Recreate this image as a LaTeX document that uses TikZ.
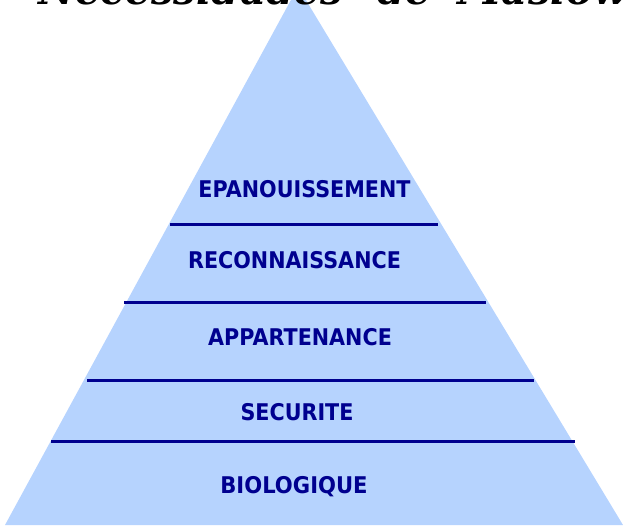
\documentclass[tikz,border=0pt]{standalone}
\usepackage{fontspec}
\setmainfont{DejaVu Sans}
\newfontfamily\headfont{DejaVu Serif}
\definecolor{pyrfill}{HTML}{B6D3FE}
\definecolor{pyrline}{HTML}{00008F}
\tikzset{
  tier/.style={draw=pyrline,line width=3pt},
  tierlabel/.style={text=pyrline,font=\bfseries\fontsize{23}{27}\selectfont,inner sep=0pt,anchor=center,xscale=0.9},
  headline/.style={font=\headfont\bfseries\itshape\fontsize{41}{46}\selectfont,inner sep=0pt,anchor=base west,text=black,xscale=0.985}
}
\begin{document}
\begin{tikzpicture}[x=1pt,y=-1pt]
\useasboundingbox (0,0) rectangle (623,528);
\begin{scope}
\clip (0,0) rectangle (623,528);
\fill[pyrfill] (298,-13) -- (5,525) -- (623,525) -- cycle;
\node[headline] (head) at (38,4.5) {Necessidades\hspace{0.5em} de\hspace{0.3em} Maslow};
\end{scope}
\coordinate (a1) at (170,224); \coordinate (b1) at (438,224);
\coordinate (a2) at (124,302); \coordinate (b2) at (486,302);
\coordinate (a3) at (87,380); \coordinate (b3) at (534,380);
\coordinate (a4) at (51,441); \coordinate (b4) at (575,441);
\draw[tier] (a1) -- (b1);
\draw[tier] (a2) -- (b2);
\draw[tier] (a3) -- (b3);
\draw[tier] (a4) -- (b4);
\node[tierlabel] (n1) at (304.5,189) {EPANOUISSEMENT};
\node[tierlabel] (n2) at (294.5,260) {RECONNAISSANCE};
\node[tierlabel] (n3) at (300,337) {APPARTENANCE};
\node[tierlabel] (n4) at (297,412) {SECURITE};
\node[tierlabel,xscale=1.02] (n5) at (294,487) {BIOLOGIQUE};
\end{tikzpicture}
\end{document}
